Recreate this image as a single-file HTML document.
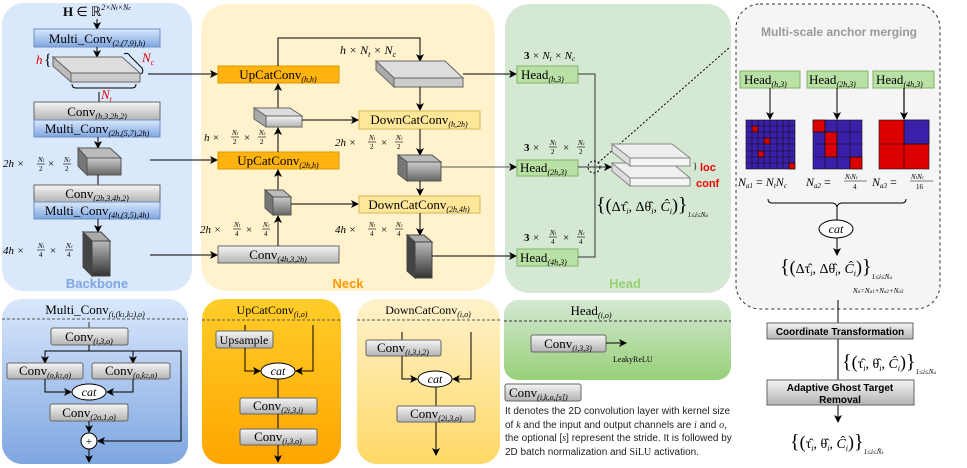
<!DOCTYPE html>
<html><head><meta charset="utf-8"><style>
html,body{margin:0;padding:0;background:#fff;}
svg{display:block;}
text{font-family:"Liberation Serif",serif;}
.s{font-family:"Liberation Sans",sans-serif;}
</style></head><body>
<svg width="967" height="468" viewBox="0 0 967 468" xmlns="http://www.w3.org/2000/svg">
<defs>
<linearGradient id="gray" x1="0" y1="0" x2="0" y2="1"><stop offset="0" stop-color="#f5f5f5"/><stop offset="1" stop-color="#b3b3b3"/></linearGradient>
<linearGradient id="blue" x1="0" y1="0" x2="0" y2="1"><stop offset="0" stop-color="#dae8fc"/><stop offset="1" stop-color="#7ea6e0"/></linearGradient>
<linearGradient id="orange" x1="0" y1="0" x2="0" y2="1"><stop offset="0" stop-color="#ffcd28"/><stop offset="1" stop-color="#ffa500"/></linearGradient>
<linearGradient id="lyel" x1="0" y1="0" x2="0" y2="1"><stop offset="0" stop-color="#fff2cc"/><stop offset="1" stop-color="#ffd966"/></linearGradient>
<linearGradient id="green" x1="0" y1="0" x2="0" y2="1"><stop offset="0" stop-color="#d5e8d4"/><stop offset="1" stop-color="#97d077"/></linearGradient>
<linearGradient id="cube" x1="0" y1="0" x2="0" y2="1"><stop offset="0" stop-color="#bbbbbb"/><stop offset="1" stop-color="#333333"/></linearGradient>
<linearGradient id="cubes" x1="0" y1="0" x2="0" y2="1"><stop offset="0" stop-color="#cccccc"/><stop offset="1" stop-color="#666666"/></linearGradient>
<marker id="a" markerWidth="8" markerHeight="8" refX="7" refY="4" orient="auto" markerUnits="userSpaceOnUse"><path d="M0,0 L8,4 L0,8 L2,4 z" fill="#000"/></marker>
</defs>

<!-- panels -->
<rect x="2" y="3" width="190" height="288" rx="22" fill="#dae8fc"/>
<rect x="201" y="4" width="294" height="287" rx="26" fill="#fff2cc"/>
<rect x="505" y="4" width="226" height="289" rx="24" fill="#d5e8d4"/>
<rect x="736" y="4" width="204" height="305" rx="24" fill="#f5f5f5" stroke="#333" stroke-dasharray="3,3"/>

<!-- Backbone -->
<text x="97" y="16" text-anchor="middle" font-size="13" font-weight="bold">H <tspan font-weight="normal">∈ ℝ</tspan><tspan font-size="8" dy="-6" font-style="italic" font-weight="normal">2×N<tspan font-size="6">t</tspan>×N<tspan font-size="6">c</tspan></tspan></text>
<line x1="97" y1="19" x2="97" y2="29" stroke="#000" marker-end="url(#a)"/>
<rect x="34" y="29" width="126" height="18" fill="url(#blue)" stroke="#6c8ebf"/>
<text x="97" y="43" text-anchor="middle" font-size="13">Multi_Conv<tspan font-size="8" font-style="italic" dy="3">(2,(7,9),h)</tspan></text>
<line x1="97" y1="47" x2="97" y2="57" stroke="#000" marker-end="url(#a)"/>
<polygon points="53,57 122,57 140,73 71,73" fill="#dddddd" stroke="#666"/>
<polygon points="53,57 71,73 71,82 53,66" fill="#bbbbbb" stroke="#666"/>
<rect x="71" y="73" width="69" height="9" fill="#cccccc" stroke="#666"/>
<text x="36" y="64" font-size="13" font-style="italic" fill="#d00">h</text>
<text x="44" y="65" font-size="16">{</text>
<text x="142" y="62" font-size="13" font-style="italic" fill="#d00">N<tspan font-size="8" dy="3">c</tspan></text>
<path d="M124,54 q4,-2 6,2 l12,12 q2,4 -1,6" fill="none" stroke="#000"/>
<path d="M72,84 q0,4 4,4 l56,0 q4,0 4,-4" fill="none" stroke="#000"/>
<line x1="99" y1="92" x2="99" y2="102" stroke="#000"/>
<text x="101" y="99" font-size="13" font-style="italic" fill="#d00">N<tspan font-size="8" dy="3">t</tspan></text>
<rect x="34" y="102" width="126" height="18" fill="url(#gray)" stroke="#666"/>
<text x="97" y="116" text-anchor="middle" font-size="13">Conv<tspan font-size="8" font-style="italic" dy="3">(h,3,2h,2)</tspan></text>
<rect x="34" y="120" width="126" height="17" fill="url(#blue)" stroke="#6c8ebf"/>
<text x="97" y="133" text-anchor="middle" font-size="13">Multi_Conv<tspan font-size="8" font-style="italic" dy="3">(2h,(5,7),2h)</tspan></text>
<line x1="98" y1="137" x2="98" y2="148" stroke="#000" marker-end="url(#a)"/>
<polygon points="78,148 110,148 121,158 87,158" fill="#bbb" stroke="#555"/>
<polygon points="78,148 87,158 87,175 78,166" fill="#777" stroke="#555"/>
<rect x="87" y="158" width="34" height="17" fill="url(#cubes)" stroke="#555"/>
<text x="3" y="167" font-size="11" font-style="italic">2h ×</text>
<text x="38" y="162" font-size="7" font-style="italic">N<tspan font-size="5">t</tspan></text><line x1="37" y1="164" x2="45" y2="164" stroke="#000" stroke-width=".6"/><text x="39" y="171" font-size="7">2</text>
<text x="48" y="167" font-size="11">×</text>
<text x="64" y="162" font-size="7" font-style="italic">N<tspan font-size="5">c</tspan></text><line x1="63" y1="164" x2="71" y2="164" stroke="#000" stroke-width=".6"/><text x="65" y="171" font-size="7">2</text>
<line x1="98" y1="175" x2="98" y2="185" stroke="#000"/>
<rect x="34" y="185" width="126" height="17" fill="url(#gray)" stroke="#666"/>
<text x="97" y="198" text-anchor="middle" font-size="13">Conv<tspan font-size="8" font-style="italic" dy="3">(2h,3,4h,2)</tspan></text>
<rect x="34" y="202" width="126" height="17" fill="url(#blue)" stroke="#6c8ebf"/>
<text x="97" y="215" text-anchor="middle" font-size="13">Multi_Conv<tspan font-size="8" font-style="italic" dy="3">(4h,(3,5),4h)</tspan></text>
<line x1="98" y1="219" x2="98" y2="232" stroke="#000" marker-end="url(#a)"/>
<polygon points="83,232 101,232 110,241 92,241" fill="#aaa" stroke="#444"/>
<polygon points="83,232 92,241 92,276 83,267" fill="#444" stroke="#444"/>
<rect x="92" y="241" width="18" height="35" fill="url(#cube)" stroke="#444"/>
<text x="3" y="254" font-size="11" font-style="italic">4h ×</text>
<text x="38" y="248" font-size="7" font-style="italic">N<tspan font-size="5">t</tspan></text><line x1="37" y1="250" x2="45" y2="250" stroke="#000" stroke-width=".6"/><text x="39" y="257" font-size="7">4</text>
<text x="50" y="254" font-size="11">×</text>
<text x="66" y="248" font-size="7" font-style="italic">N<tspan font-size="5">c</tspan></text><line x1="65" y1="250" x2="73" y2="250" stroke="#000" stroke-width=".6"/><text x="67" y="257" font-size="7">4</text>
<text x="97" y="288" text-anchor="middle" class="s" font-size="13" font-weight="bold" fill="#7ea6e0">Backbone</text>

<line x1="148" y1="74" x2="217" y2="74" stroke="#000" marker-end="url(#a)"/>
<line x1="150" y1="160" x2="217" y2="160" stroke="#000" marker-end="url(#a)"/>
<line x1="150" y1="255" x2="217" y2="255" stroke="#000" marker-end="url(#a)"/>

<!-- Neck -->
<rect x="218" y="66" width="121" height="17" fill="#ffb30f" stroke="#d79b00"/>
<text x="278" y="79" text-anchor="middle" font-size="13">UpCatConv<tspan font-size="8" font-style="italic" dy="3">(h,h)</tspan></text>
<rect x="218" y="152" width="121" height="17" fill="#ffb30f" stroke="#d79b00"/>
<text x="278" y="165" text-anchor="middle" font-size="13">UpCatConv<tspan font-size="8" font-style="italic" dy="3">(2h,h)</tspan></text>
<rect x="218" y="246" width="121" height="17" fill="url(#gray)" stroke="#666"/>
<text x="278" y="259" text-anchor="middle" font-size="13">Conv<tspan font-size="8" font-style="italic" dy="3">(4h,3,2h)</tspan></text>
<polyline points="278,66 278,38 420,38 420,61" fill="none" stroke="#000" marker-end="url(#a)"/>
<text x="340" y="54" font-size="12" font-style="italic">h × N<tspan font-size="8" dy="3">t</tspan><tspan dy="-3"> × N</tspan><tspan font-size="8" dy="3">c</tspan></text>
<line x1="278" y1="108" x2="278" y2="84" stroke="#000" marker-end="url(#a)"/>
<polygon points="254,108 290,108 302,116 266,116" fill="#ddd" stroke="#666"/>
<polygon points="254,108 266,116 266,127 254,119" fill="#aaa" stroke="#666"/>
<rect x="266" y="116" width="36" height="11" fill="url(#gray)" stroke="#666"/>
<line x1="302" y1="120" x2="358" y2="120" stroke="#000" marker-end="url(#a)"/>
<line x1="278" y1="152" x2="278" y2="128" stroke="#000" marker-end="url(#a)"/>
<text x="204" y="141" font-size="11" font-style="italic">h ×</text>
<text x="232" y="135" font-size="7" font-style="italic">N<tspan font-size="5">t</tspan></text><line x1="231" y1="137" x2="239" y2="137" stroke="#000" stroke-width=".6"/><text x="233" y="144" font-size="7">2</text>
<text x="244" y="141" font-size="11">×</text>
<text x="259" y="135" font-size="7" font-style="italic">N<tspan font-size="5">c</tspan></text><line x1="258" y1="137" x2="266" y2="137" stroke="#000" stroke-width=".6"/><text x="260" y="144" font-size="7">2</text>
<line x1="278" y1="190" x2="278" y2="170" stroke="#000" marker-end="url(#a)"/>
<polygon points="265,190 283,190 291,197 273,197" fill="#bbb" stroke="#555"/>
<polygon points="265,190 273,197 273,215 265,208" fill="#777" stroke="#555"/>
<rect x="273" y="197" width="18" height="18" fill="url(#cubes)" stroke="#555"/>
<line x1="291" y1="204" x2="358" y2="204" stroke="#000" marker-end="url(#a)"/>
<line x1="278" y1="246" x2="278" y2="216" stroke="#000" marker-end="url(#a)"/>
<text x="200" y="233" font-size="11" font-style="italic">2h ×</text>
<text x="234" y="227" font-size="7" font-style="italic">N<tspan font-size="5">t</tspan></text><line x1="233" y1="229" x2="241" y2="229" stroke="#000" stroke-width=".6"/><text x="235" y="236" font-size="7">4</text>
<text x="246" y="233" font-size="11">×</text>
<text x="263" y="227" font-size="7" font-style="italic">N<tspan font-size="5">c</tspan></text><line x1="262" y1="229" x2="270" y2="229" stroke="#000" stroke-width=".6"/><text x="264" y="236" font-size="7">4</text>

<polygon points="376,61 445,61 463,78 394,78" fill="#ddd" stroke="#666"/>
<polygon points="376,61 394,78 394,87 376,70" fill="#aaa" stroke="#666"/>
<rect x="394" y="78" width="69" height="9" fill="#ccc" stroke="#666"/>
<line x1="420" y1="87" x2="420" y2="110" stroke="#000" marker-end="url(#a)"/>
<rect x="359" y="111" width="121" height="18" fill="#ffe79a" stroke="#d6b656"/>
<text x="419" y="124" text-anchor="middle" font-size="13">DownCatConv<tspan font-size="8" font-style="italic" dy="3">(h,2h)</tspan></text>
<line x1="420" y1="129" x2="420" y2="155" stroke="#000" marker-end="url(#a)"/>
<text x="335" y="146" font-size="11" font-style="italic">2h ×</text>
<text x="369" y="140" font-size="7" font-style="italic">N<tspan font-size="5">t</tspan></text><line x1="368" y1="142" x2="376" y2="142" stroke="#000" stroke-width=".6"/><text x="370" y="149" font-size="7">2</text>
<text x="381" y="146" font-size="11">×</text>
<text x="396" y="140" font-size="7" font-style="italic">N<tspan font-size="5">c</tspan></text><line x1="395" y1="142" x2="403" y2="142" stroke="#000" stroke-width=".6"/><text x="397" y="149" font-size="7">2</text>
<polygon points="398,155 432,155 441,162 407,162" fill="#bbb" stroke="#555"/>
<polygon points="398,155 407,162 407,181 398,174" fill="#777" stroke="#555"/>
<rect x="407" y="162" width="34" height="19" fill="url(#cubes)" stroke="#555"/>
<line x1="420" y1="181" x2="420" y2="195" stroke="#000" marker-end="url(#a)"/>
<rect x="359" y="196" width="121" height="17" fill="#ffe79a" stroke="#d6b656"/>
<text x="419" y="209" text-anchor="middle" font-size="13">DownCatConv<tspan font-size="8" font-style="italic" dy="3">(2h,4h)</tspan></text>
<line x1="420" y1="213" x2="420" y2="235" stroke="#000" marker-end="url(#a)"/>
<text x="335" y="233" font-size="11" font-style="italic">4h ×</text>
<text x="369" y="227" font-size="7" font-style="italic">N<tspan font-size="5">t</tspan></text><line x1="368" y1="229" x2="376" y2="229" stroke="#000" stroke-width=".6"/><text x="370" y="236" font-size="7">4</text>
<text x="381" y="233" font-size="11">×</text>
<text x="396" y="227" font-size="7" font-style="italic">N<tspan font-size="5">c</tspan></text><line x1="395" y1="229" x2="403" y2="229" stroke="#000" stroke-width=".6"/><text x="397" y="236" font-size="7">4</text>
<polygon points="407,235 424,235 432,242 415,242" fill="#aaa" stroke="#444"/>
<polygon points="407,235 415,242 415,278 407,271" fill="#444" stroke="#444"/>
<rect x="415" y="242" width="17" height="36" fill="url(#cube)" stroke="#444"/>
<text x="348" y="288" text-anchor="middle" class="s" font-size="13" font-weight="bold" fill="#ff9900">Neck</text>

<line x1="463" y1="74" x2="516" y2="74" stroke="#000" marker-end="url(#a)"/>
<line x1="441" y1="167" x2="516" y2="167" stroke="#555" marker-end="url(#a)"/>
<line x1="432" y1="256" x2="516" y2="256" stroke="#000" marker-end="url(#a)"/>

<!-- Head -->
<text x="524" y="59" font-size="11" font-style="italic"><tspan font-style="normal" font-weight="bold">3</tspan> × N<tspan font-size="7" dy="2">t</tspan><tspan dy="-2"> × N</tspan><tspan font-size="7" dy="2">c</tspan></text>
<rect x="517" y="66" width="61" height="17" fill="#b9e0a5" stroke="#82b366"/>
<text x="521" y="79" font-size="13">Head<tspan font-size="8" font-style="italic" dy="3">(h,3)</tspan></text>
<text x="524" y="151" font-size="11" font-weight="bold">3</text><text x="533" y="151" font-size="11">×</text>
<text x="550" y="145" font-size="7" font-style="italic">N<tspan font-size="5">t</tspan></text><line x1="549" y1="147" x2="557" y2="147" stroke="#000" stroke-width=".6"/><text x="551" y="154" font-size="7">2</text>
<text x="563" y="151" font-size="11">×</text>
<text x="578" y="145" font-size="7" font-style="italic">N<tspan font-size="5">c</tspan></text><line x1="577" y1="147" x2="585" y2="147" stroke="#000" stroke-width=".6"/><text x="579" y="154" font-size="7">2</text>
<rect x="517" y="160" width="61" height="16" fill="#b9e0a5" stroke="#82b366"/>
<text x="520" y="172" font-size="13">Head<tspan font-size="8" font-style="italic" dy="3">(2h,3)</tspan></text>
<text x="524" y="241" font-size="11" font-weight="bold">3</text><text x="533" y="241" font-size="11">×</text>
<text x="550" y="235" font-size="7" font-style="italic">N<tspan font-size="5">t</tspan></text><line x1="549" y1="237" x2="557" y2="237" stroke="#000" stroke-width=".6"/><text x="551" y="244" font-size="7">4</text>
<text x="563" y="241" font-size="11">×</text>
<text x="578" y="235" font-size="7" font-style="italic">N<tspan font-size="5">c</tspan></text><line x1="577" y1="237" x2="585" y2="237" stroke="#000" stroke-width=".6"/><text x="579" y="244" font-size="7">4</text>
<rect x="517" y="249" width="61" height="17" fill="#b9e0a5" stroke="#82b366"/>
<text x="520" y="262" font-size="13">Head<tspan font-size="8" font-style="italic" dy="3">(4h,3)</tspan></text>
<polyline points="578,74 595,74 595,257 578,257" fill="none" stroke="#333"/>
<line x1="578" y1="167" x2="611" y2="167" stroke="#333" marker-end="url(#a)"/>
<circle cx="594" cy="167" r="6" fill="none" stroke="#000" stroke-dasharray="2,2"/>
<line x1="598" y1="163" x2="730" y2="47" stroke="#000" stroke-dasharray="2,2"/>
<polygon points="612,163 672,163 690,178 630,178" fill="#f0f0f0" stroke="#888"/>
<polygon points="612,163 630,178 630,186 612,171" fill="#ddd" stroke="#888"/>
<rect x="630" y="178" width="60" height="8" fill="#f5f5f5" stroke="#888"/>
<polygon points="612,144 672,144 690,158 630,158" fill="#eeeeee" stroke="#888"/>
<polygon points="612,144 630,158 630,166 612,152" fill="#ddd" stroke="#888"/>
<rect x="630" y="158" width="60" height="8" fill="#f5f5f5" stroke="#888"/>
<text x="693" y="169" font-size="9">}</text>
<text x="700" y="171" class="s" font-size="11" font-weight="bold" fill="#e00">loc</text>
<text x="696" y="187" class="s" font-size="11" font-weight="bold" fill="#e00">conf</text>
<text x="596" y="211" font-size="20">{<tspan font-size="18">(</tspan><tspan font-size="14">Δτ̂<tspan font-size="8" dy="3" font-style="italic">i</tspan><tspan dy="-3">, Δθ̂</tspan><tspan font-size="8" dy="3" font-style="italic">i</tspan><tspan dy="-3">, </tspan><tspan font-style="italic">Ĉ</tspan><tspan font-size="8" dy="3" font-style="italic">i</tspan></tspan><tspan dy="-3" font-size="18">)</tspan>}<tspan font-size="7" dy="6" font-style="italic">1≤i≤N<tspan font-size="5">a</tspan></tspan></text>
<text x="625" y="288" text-anchor="middle" class="s" font-size="13" font-weight="bold" fill="#97d077">Head</text>

<!-- Multi-scale -->
<text x="839" y="36" text-anchor="middle" class="s" font-size="12" font-weight="bold" fill="#999">Multi-scale anchor merging</text>
<rect x="740" y="71" width="60" height="17" fill="#b9e0a5" stroke="#82b366"/>
<text x="744" y="84" font-size="13">Head<tspan font-size="8" font-style="italic" dy="3">(h,3)</tspan></text>
<rect x="807" y="71" width="61" height="17" fill="#b9e0a5" stroke="#82b366"/>
<text x="809" y="84" font-size="13">Head<tspan font-size="8" font-style="italic" dy="3">(2h,3)</tspan></text>
<rect x="873" y="71" width="61" height="17" fill="#b9e0a5" stroke="#82b366"/>
<text x="876" y="84" font-size="13">Head<tspan font-size="8" font-style="italic" dy="3">(4h,3)</tspan></text>
<line x1="770" y1="88" x2="770" y2="119" stroke="#000" marker-end="url(#a)"/>
<line x1="837" y1="88" x2="837" y2="119" stroke="#000" marker-end="url(#a)"/>
<line x1="904" y1="88" x2="904" y2="119" stroke="#333" stroke-width="1.5" marker-end="url(#a)"/>
<g stroke="#111" stroke-width=".6">
<rect x="746" y="120" width="49" height="49" fill="#3a1fa8"/>
<rect x="752" y="126" width="6" height="6" fill="#d00"/>
<rect x="764" y="138" width="6" height="6" fill="#d00"/>
<rect x="758" y="151" width="6" height="6" fill="#d00"/>
<rect x="789" y="163" width="6" height="6" fill="#d00"/>
<path d="M752 120V169M758 120V169M764 120V169M770 120V169M777 120V169M783 120V169M789 120V169M746 126H795M746 132H795M746 138H795M746 144H795M746 151H795M746 157H795M746 163H795" fill="none"/>
<rect x="813" y="120" width="49" height="49" fill="#3a1fa8"/>
<rect x="813" y="120" width="12" height="12" fill="#d00"/>
<rect x="825" y="132" width="12" height="25" fill="#d00"/>
<rect x="850" y="157" width="12" height="12" fill="#d00"/>
<path d="M825 120V169M837 120V169M850 120V169M813 132H862M813 144H862M813 157H862" fill="none"/>
<rect x="879" y="120" width="50" height="49" fill="#d00"/>
<rect x="904" y="120" width="25" height="24" fill="#3a1fa8"/>
<path d="M904 120V169M879 144H929" fill="none"/>
</g>
<text x="738" y="186" font-size="12" font-style="italic">N<tspan font-size="7" dy="2">a1</tspan><tspan dy="-2" font-style="normal"> = </tspan>N<tspan font-size="7" dy="2">t</tspan><tspan dy="-2">N</tspan><tspan font-size="7" dy="2">c</tspan></text>
<text x="806" y="186" font-size="12" font-style="italic">N<tspan font-size="7" dy="2">a2</tspan><tspan dy="-2" font-style="normal"> =</tspan></text>
<text x="845" y="179" font-size="7" font-style="italic">N<tspan font-size="5">t</tspan>N<tspan font-size="5">c</tspan></text><line x1="844" y1="181" x2="867" y2="181" stroke="#000" stroke-width=".6"/><text x="853" y="189" font-size="7">4</text>
<text x="872" y="186" font-size="12" font-style="italic">N<tspan font-size="7" dy="2">a3</tspan><tspan dy="-2" font-style="normal"> =</tspan></text>
<text x="911" y="179" font-size="7" font-style="italic">N<tspan font-size="5">t</tspan>N<tspan font-size="5">c</tspan></text><line x1="910" y1="181" x2="933" y2="181" stroke="#000" stroke-width=".6"/><text x="916" y="189" font-size="7">16</text>
<path d="M768,199 q0,4 4,4 l60,0 q4,0 5,4 q1,-4 5,-4 l60,0 q4,0 4,-4" fill="none" stroke="#000"/>
<line x1="837" y1="207" x2="837" y2="220" stroke="#000"/>
<ellipse cx="836" cy="229" rx="17" ry="9" fill="#fff" stroke="#000"/>
<text x="836" y="233" text-anchor="middle" font-size="12" font-style="italic">cat</text>
<line x1="837" y1="238" x2="837" y2="255" stroke="#000" marker-end="url(#a)"/>
<text x="780" y="273" font-size="20">{<tspan font-size="18">(</tspan><tspan font-size="14">Δτ̂<tspan font-size="8" dy="3" font-style="italic">i</tspan><tspan dy="-3">, Δθ̂</tspan><tspan font-size="8" dy="3" font-style="italic">i</tspan><tspan dy="-3">, </tspan><tspan font-style="italic">Ĉ</tspan><tspan font-size="8" dy="3" font-style="italic">i</tspan></tspan><tspan dy="-3" font-size="18">)</tspan>}<tspan font-size="7" dy="6" font-style="italic">1≤i≤N<tspan font-size="5">a</tspan></tspan></text>
<text x="853" y="293" font-size="7" font-style="italic">N<tspan font-size="5">a</tspan>=N<tspan font-size="5">a1</tspan>+N<tspan font-size="5">a2</tspan>+N<tspan font-size="5">a3</tspan></text>
<line x1="838" y1="300" x2="838" y2="323" stroke="#000"/>
<rect x="767" y="323" width="146" height="16" fill="url(#gray)" stroke="#666"/>
<text x="840" y="335" text-anchor="middle" class="s" font-size="10" font-weight="bold">Coordinate Transformation</text>
<line x1="838" y1="339" x2="838" y2="380" stroke="#000"/>
<text x="842" y="368" font-size="20">{<tspan font-size="18">(</tspan><tspan font-size="14">τ̂<tspan font-size="8" dy="3" font-style="italic">i</tspan><tspan dy="-3">, θ̂</tspan><tspan font-size="8" dy="3" font-style="italic">i</tspan><tspan dy="-3">, </tspan><tspan font-style="italic">Ĉ</tspan><tspan font-size="8" dy="3" font-style="italic">i</tspan></tspan><tspan dy="-3" font-size="18">)</tspan>}<tspan font-size="7" dy="6" font-style="italic">1≤i≤N<tspan font-size="5">a</tspan></tspan></text>
<rect x="767" y="380" width="147" height="25" fill="url(#gray)" stroke="#666"/>
<text x="840" y="391" text-anchor="middle" class="s" font-size="10" font-weight="bold">Adaptive Ghost Target</text>
<text x="840" y="403" text-anchor="middle" class="s" font-size="10" font-weight="bold">Removal</text>
<line x1="838" y1="405" x2="838" y2="422" stroke="#000" marker-end="url(#a)"/>
<text x="790" y="448" font-size="20">{<tspan font-size="18">(</tspan><tspan font-size="14">τ̂<tspan font-size="8" dy="3" font-style="italic">i</tspan><tspan dy="-3">, θ̂</tspan><tspan font-size="8" dy="3" font-style="italic">i</tspan><tspan dy="-3">, </tspan><tspan font-style="italic">Ĉ</tspan><tspan font-size="8" dy="3" font-style="italic">i</tspan></tspan><tspan dy="-3" font-size="18">)</tspan>}<tspan font-size="7" dy="6" font-style="italic">1≤i≤N̂<tspan font-size="5">s</tspan></tspan></text>

<!-- Bottom: Multi_Conv -->
<rect x="2" y="299" width="186" height="165" rx="20" fill="url(#blue)"/>
<line x1="2" y1="319" x2="188" y2="319" stroke="#555" stroke-dasharray="3,2"/>
<text x="95" y="314" text-anchor="middle" font-size="13">Multi_Conv<tspan font-size="8" font-style="italic" dy="3">(i,(k<tspan font-size="6">1</tspan>,k<tspan font-size="6">2</tspan>),o)</tspan></text>
<line x1="89" y1="322" x2="89" y2="328" stroke="#333"/>
<rect x="51" y="328" width="77" height="17" rx="2" fill="url(#gray)" stroke="#666"/>
<text x="89" y="341" text-anchor="middle" font-size="13">Conv<tspan font-size="8" font-style="italic" dy="3">(i,3,o)</tspan></text>
<polyline points="89,345 89,351 181,351 181,441 98,441" fill="none" stroke="#000" marker-end="url(#a)"/>
<polyline points="45,363 45,351 133,351 133,363" fill="none" stroke="#000"/>
<line x1="45" y1="351" x2="45" y2="363" stroke="#000" marker-end="url(#a)"/>
<line x1="133" y1="351" x2="133" y2="363" stroke="#000" marker-end="url(#a)"/>
<rect x="7" y="363" width="76" height="16" rx="2" fill="url(#gray)" stroke="#666"/>
<text x="45" y="375" text-anchor="middle" font-size="13">Conv<tspan font-size="8" font-style="italic" dy="3">(o,k<tspan font-size="6">1</tspan>,o)</tspan></text>
<rect x="92" y="363" width="78" height="16" rx="2" fill="url(#gray)" stroke="#666"/>
<text x="131" y="375" text-anchor="middle" font-size="13">Conv<tspan font-size="8" font-style="italic" dy="3">(o,k<tspan font-size="6">2</tspan>,o)</tspan></text>
<polyline points="45,379 45,392 71,392" fill="none" stroke="#000" marker-end="url(#a)"/>
<polyline points="133,379 133,392 107,392" fill="none" stroke="#000" marker-end="url(#a)"/>
<ellipse cx="89" cy="392" rx="17" ry="8" fill="#fff" stroke="#000"/>
<text x="89" y="396" text-anchor="middle" font-size="12" font-style="italic">cat</text>
<rect x="50" y="404" width="78" height="17" rx="2" fill="url(#gray)" stroke="#666"/>
<text x="89" y="417" text-anchor="middle" font-size="13">Conv<tspan font-size="8" font-style="italic" dy="3">(2o,1,o)</tspan></text>
<line x1="89" y1="421" x2="89" y2="432" stroke="#000" marker-end="url(#a)"/>
<circle cx="89" cy="441" r="8" fill="#fff" stroke="#000"/>
<text x="89" y="445" text-anchor="middle" font-size="11">+</text>
<line x1="89" y1="449" x2="89" y2="462" stroke="#000" marker-end="url(#a)"/>

<!-- Bottom: UpCatConv -->
<rect x="202" y="299" width="139" height="165" rx="20" fill="url(#orange)"/>
<line x1="202" y1="320" x2="341" y2="320" stroke="#555" stroke-dasharray="3,2"/>
<text x="272" y="314" text-anchor="middle" font-size="12">UpCatConv<tspan font-size="8" font-style="italic" dy="3">(i,o)</tspan></text>
<line x1="245" y1="325" x2="245" y2="331" stroke="#000"/>
<rect x="216" y="331" width="57" height="17" rx="2" fill="url(#gray)" stroke="#666"/>
<text x="244" y="344" text-anchor="middle" font-size="12">Upsample</text>
<polyline points="245,348 245,371 260,371" fill="none" stroke="#000" marker-end="url(#a)"/>
<polyline points="313,325 313,371 296,371" fill="none" stroke="#000" marker-end="url(#a)"/>
<ellipse cx="278" cy="371" rx="17" ry="8" fill="#fff" stroke="#000"/>
<text x="278" y="375" text-anchor="middle" font-size="12" font-style="italic">cat</text>
<line x1="278" y1="379" x2="278" y2="398" stroke="#000"/>
<rect x="240" y="398" width="77" height="16" rx="2" fill="url(#gray)" stroke="#666"/>
<text x="278" y="410" text-anchor="middle" font-size="13">Conv<tspan font-size="8" font-style="italic" dy="3">(2i,3,i)</tspan></text>
<line x1="278" y1="414" x2="278" y2="429" stroke="#000"/>
<rect x="240" y="429" width="77" height="16" rx="2" fill="url(#gray)" stroke="#666"/>
<text x="278" y="441" text-anchor="middle" font-size="13">Conv<tspan font-size="8" font-style="italic" dy="3">(i,3,o)</tspan></text>
<line x1="278" y1="445" x2="278" y2="462" stroke="#000" marker-end="url(#a)"/>

<!-- Bottom: DownCatConv -->
<rect x="357" y="299" width="143" height="165" rx="20" fill="url(#lyel)"/>
<line x1="357" y1="320" x2="500" y2="320" stroke="#555" stroke-dasharray="3,2"/>
<text x="428" y="314" text-anchor="middle" font-size="12">DownCatConv<tspan font-size="8" font-style="italic" dy="3">(i,o)</tspan></text>
<line x1="402" y1="332" x2="402" y2="340" stroke="#000"/>
<rect x="366" y="340" width="75" height="16" rx="2" fill="url(#gray)" stroke="#666"/>
<text x="403" y="352" text-anchor="middle" font-size="13">Conv<tspan font-size="8" font-style="italic" dy="3">(i,3,i,2)</tspan></text>
<polyline points="402,356 402,379 417,379" fill="none" stroke="#000" marker-end="url(#a)"/>
<polyline points="471,332 471,379 453,379" fill="none" stroke="#000" marker-end="url(#a)"/>
<ellipse cx="435" cy="379" rx="17" ry="8" fill="#fff" stroke="#000"/>
<text x="435" y="383" text-anchor="middle" font-size="12" font-style="italic">cat</text>
<line x1="436" y1="387" x2="436" y2="406" stroke="#000"/>
<rect x="397" y="406" width="78" height="16" rx="2" fill="url(#gray)" stroke="#666"/>
<text x="436" y="418" text-anchor="middle" font-size="13">Conv<tspan font-size="8" font-style="italic" dy="3">(2i,3,o)</tspan></text>
<line x1="436" y1="422" x2="436" y2="455" stroke="#000" marker-end="url(#a)"/>

<!-- Bottom: Head -->
<rect x="504" y="300" width="227" height="80" rx="14" fill="url(#green)"/>
<line x1="504" y1="321" x2="731" y2="321" stroke="#333" stroke-dasharray="3,2"/>
<text x="591" y="315" text-anchor="middle" font-size="13">Head<tspan font-size="8" font-style="italic" dy="3">(i,o)</tspan></text>
<rect x="531" y="335" width="75" height="17" rx="2" fill="url(#gray)" stroke="#666"/>
<text x="568" y="348" text-anchor="middle" font-size="13">Conv<tspan font-size="8" font-style="italic" dy="3">(i,3,3)</tspan></text>
<line x1="606" y1="343" x2="626" y2="343" stroke="#000" marker-end="url(#a)"/>
<text x="613" y="362" font-size="8">LeakyReLU</text>
<rect x="505" y="384" width="76" height="17" rx="2" fill="url(#gray)" stroke="#666"/>
<text x="509" y="397" font-size="13">Conv<tspan font-size="8" font-style="italic" dy="3">(i,k,o,[s])</tspan></text>
<g class="s" font-size="10" fill="#222">
<text x="505" y="414" class="s">It denotes the 2D convolution layer with kernel size</text>
<text x="505" y="428" class="s">of <tspan font-family="Liberation Serif" font-style="italic">k</tspan> and the input and output channels are <tspan font-family="Liberation Serif" font-style="italic">i</tspan> and <tspan font-family="Liberation Serif" font-style="italic">o</tspan>,</text>
<text x="505" y="441" class="s">the optional [<tspan font-family="Liberation Serif" font-style="italic">s</tspan>] represent the stride. It is followed by</text>
<text x="505" y="455" class="s">2D batch normalization and <tspan font-family="Liberation Serif">SiLU</tspan> activation.</text>
</g>
</svg>
</body></html>
